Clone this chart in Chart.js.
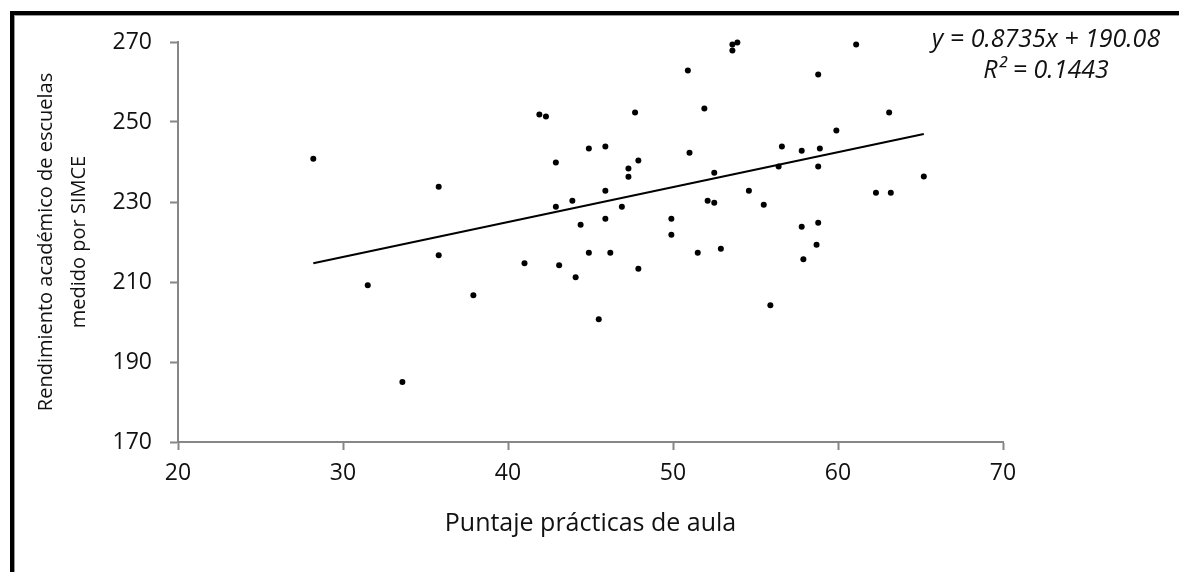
<!DOCTYPE html>
<html>
<head>
<meta charset="utf-8">
<script src="https://cdn.jsdelivr.net/npm/chart.js@4.4.0/dist/chart.umd.min.js"></script>
<style>
    html, body { margin: 0; padding: 0; background: #fff; }
    #frame {
        position: absolute; left: 10px; top: 11px; width: 1300px; height: 700px;
        border-top: 4px solid #000; border-left: 4px solid #000;
        box-shadow: inset 1px 1px 0 #999;
    }
    #chart { position: absolute; left: 0; top: 0; }
</style>
</head>
<body>
<div id="frame"></div>
<canvas id="chart" width="1179" height="572"></canvas>
<script>
// Puntaje prácticas de aula (x) vs rendimiento SIMCE (y)
const practicas = [28.2, 31.5, 33.6, 35.8, 35.8, 37.9, 41.0, 41.9, 42.3, 42.9,
    42.9, 43.1, 43.9, 44.1, 44.4, 44.9, 44.9, 45.5, 45.9, 45.9,
    45.9, 46.2, 46.9, 47.3, 47.3, 47.7, 47.9, 47.9, 49.9, 49.9,
    50.9, 51.0, 51.5, 51.9, 52.1, 52.5, 52.5, 52.9, 53.6, 53.9,
    53.6, 54.6, 55.5, 55.9, 56.4, 56.6, 57.8, 57.8, 57.9, 58.7,
    58.8, 58.8, 58.8, 58.9, 59.9, 61.1, 62.3, 63.1, 63.2, 65.2];
const simce = [240.8, 209.2, 185.0, 233.8, 216.7, 206.7, 214.7, 251.9, 251.4, 239.9,
    228.8, 214.2, 230.3, 211.2, 224.3, 243.4, 217.3, 200.7, 243.9, 232.8,
    225.8, 217.3, 228.8, 238.4, 236.3, 252.4, 240.4, 213.3, 225.8, 221.8,
    262.9, 242.3, 217.3, 253.4, 230.3, 229.8, 237.3, 218.3, 269.4, 269.9,
    267.9, 232.8, 229.3, 204.2, 238.9, 243.9, 242.8, 223.8, 215.7, 219.3,
    261.9, 238.9, 224.8, 243.4, 247.9, 269.4, 232.3, 252.4, 232.3, 236.4];

// linear trend line ends
const trendX = [28.2, 65.2];
const trendY = [214.7, 247.0];

const xTicks = [20, 30, 40, 50, 60, 70];
const yTicks = [170, 190, 210, 230, 250, 270];

const equationLines = ['y = 0.8735x + 190.08', 'R² = 0.1443'];

const FONT = "'Open Sans', 'DejaVu Sans', sans-serif";
const AXIS_GRAY = '#868686';
const TEXT = '#111';

const equationPlugin = {
    id: 'equation',
    afterDraw(chart) {
        const ctx = chart.ctx;
        ctx.save();
        ctx.fillStyle = TEXT;
        ctx.font = 'italic 25px ' + FONT;
        ctx.textAlign = 'center';
        ctx.textBaseline = 'middle';
        ctx.fillText(equationLines[0], 1046, 40);
        ctx.fillText(equationLines[1], 1046, 71);
        ctx.restore();
    }
};

document.addEventListener('DOMContentLoaded', function() {
    const points = practicas.map((x, i) => ({ x: x, y: simce[i] }));
    const trend = trendX.map((x, i) => ({ x: x, y: trendY[i] }));

    new Chart(document.getElementById('chart').getContext('2d'), {
        type: 'scatter',
        data: {
            datasets: [
                {
                    label: 'Escuelas',
                    data: points,
                    backgroundColor: '#000',
                    borderColor: '#000',
                    pointRadius: 3,
                    pointHoverRadius: 3,
                    borderWidth: 0,
                    clip: false
                },
                {
                    type: 'line',
                    label: 'Tendencia',
                    data: trend,
                    borderColor: '#000',
                    borderWidth: 2,
                    pointRadius: 0,
                    fill: false
                }
            ]
        },
        options: {
            responsive: false,
            animation: false,
            devicePixelRatio: 1,
            layout: { padding: { top: 42, right: 176, bottom: 0, left: 0 } },
            plugins: {
                legend: { display: false },
                tooltip: { enabled: false }
            },
            scales: {
                x: {
                    type: 'linear',
                    min: 20,
                    max: 70,
                    afterFit: scale => { scale.height = 130; },
                    afterBuildTicks: scale => { scale.ticks = xTicks.map(v => ({ value: v })); },
                    border: { color: AXIS_GRAY, width: 2 },
                    grid: { drawOnChartArea: false, color: AXIS_GRAY, tickColor: AXIS_GRAY, tickLength: 8, tickWidth: 2 },
                    ticks: { color: TEXT, font: { family: FONT, size: 23 }, padding: 10 },
                    title: {
                        display: true,
                        text: 'Puntaje prácticas de aula',
                        color: TEXT,
                        font: { family: FONT, size: 25 },
                        padding: { top: 0, bottom: 33 }
                    }
                },
                y: {
                    type: 'linear',
                    min: 170,
                    max: 270,
                    afterFit: scale => { scale.width = 178; },
                    afterBuildTicks: scale => { scale.ticks = yTicks.map(v => ({ value: v })); },
                    border: { color: AXIS_GRAY, width: 2 },
                    grid: { drawOnChartArea: false, color: AXIS_GRAY, tickColor: AXIS_GRAY, tickLength: 8, tickWidth: 2 },
                    ticks: { color: TEXT, font: { family: FONT, size: 23 }, padding: 18 },
                    title: {
                        display: true,
                        text: ['Rendimiento académico de escuelas', 'medido por SIMCE'],
                        color: TEXT,
                        font: { family: FONT, size: 20, lineHeight: 1.65 },
                        padding: { top: 30, bottom: 0 }
                    }
                }
            }
        },
        plugins: [equationPlugin]
    });
});
</script>
</body>
</html>
